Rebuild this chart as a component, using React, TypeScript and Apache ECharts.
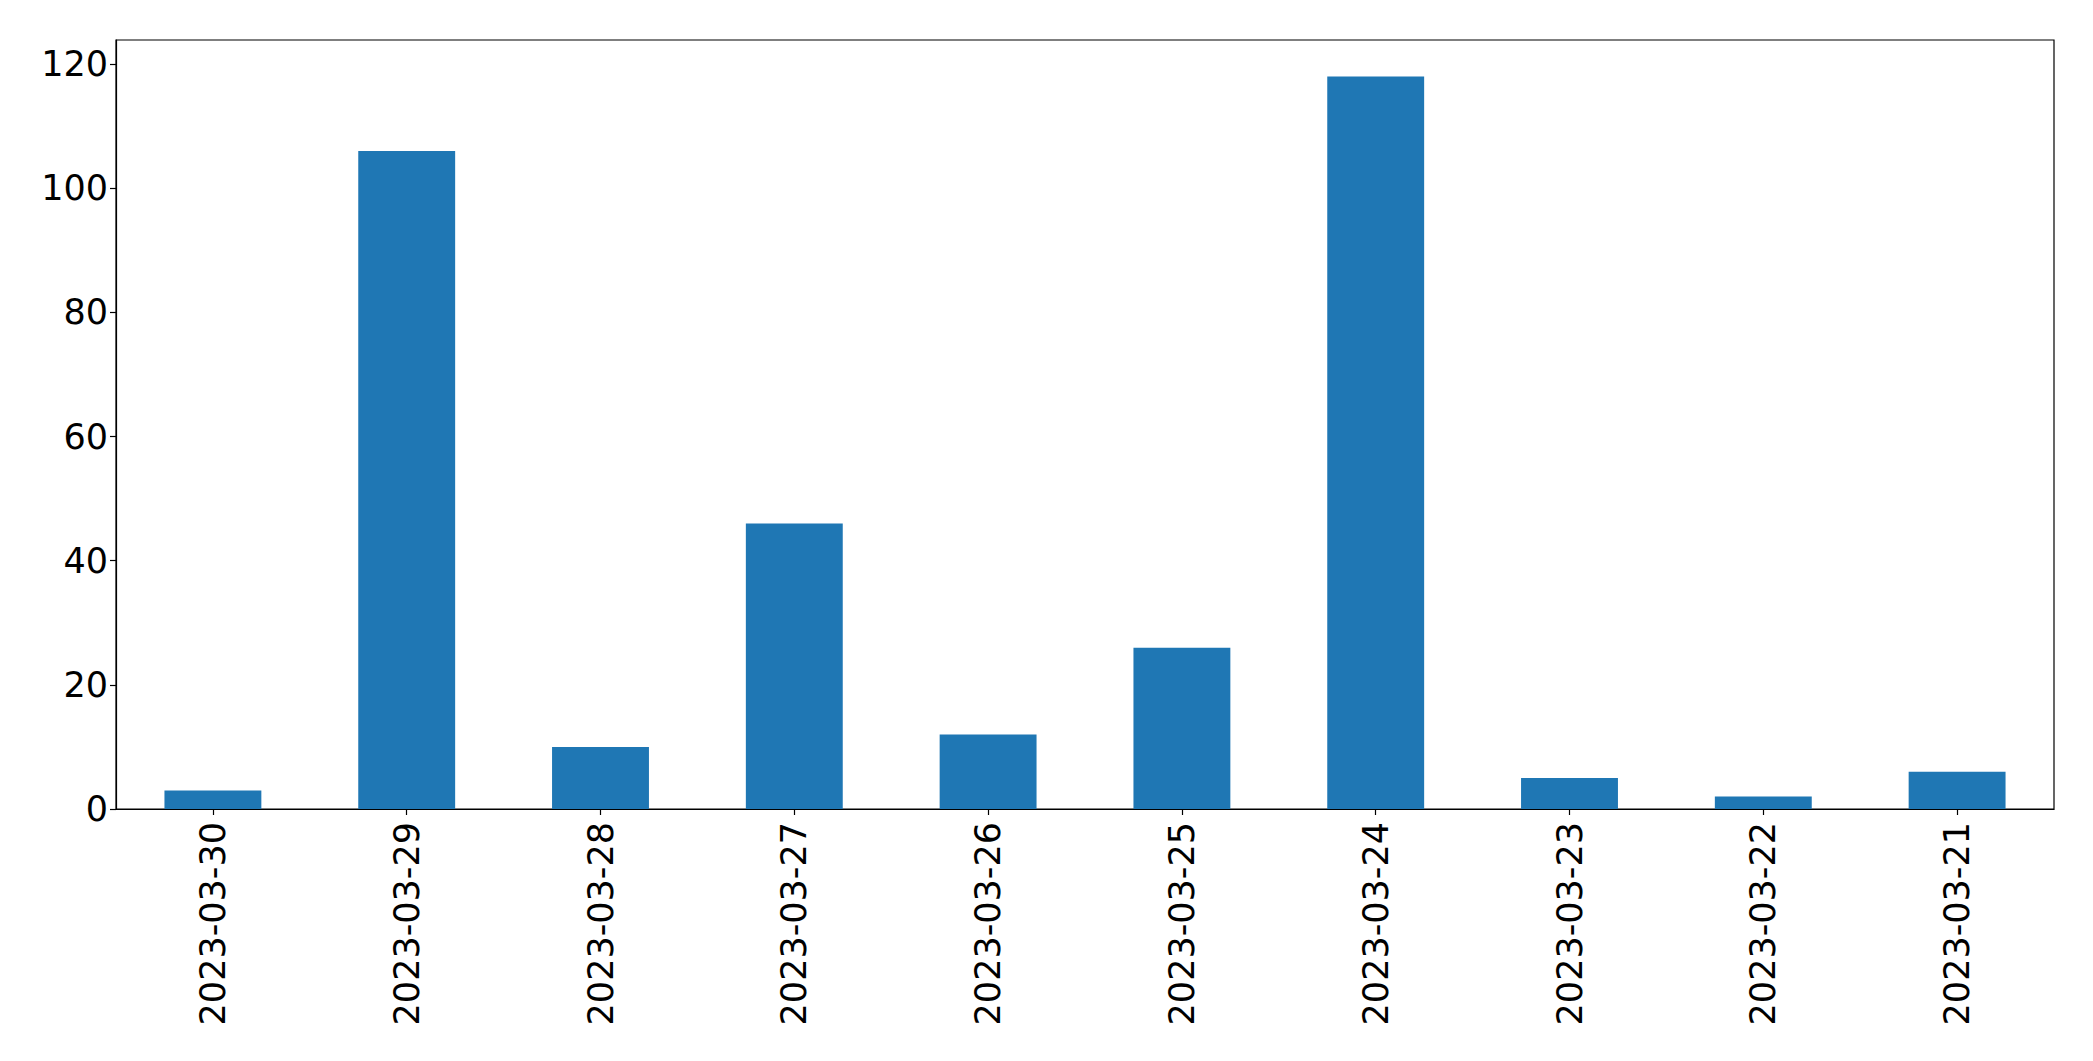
import React, { useEffect, useRef } from "react";
import * as echarts from "echarts";

const categories = [
  "2023-03-30",
  "2023-03-29",
  "2023-03-28",
  "2023-03-27",
  "2023-03-26",
  "2023-03-25",
  "2023-03-24",
  "2023-03-23",
  "2023-03-22",
  "2023-03-21",
];
const values = [3, 106, 10, 46, 12, 26, 118, 5, 2, 6];
const yMax = 123.9;
const yInterval = 20;

export default function App() {
  const ref = useRef<HTMLDivElement>(null);
  useEffect(() => {
    if (!ref.current) return;
    const chart = echarts.init(ref.current, undefined, { renderer: "svg" });
    const font = "DejaVu Sans";
    chart.setOption({
      animation: false,
      backgroundColor: "#fff",
      grid: {
        left: 116,
        right: 39,
        top: 40,
        bottom: 252,
        show: true,
        borderColor: "#000",
        borderWidth: 1.2,
        backgroundColor: "transparent",
      },
      xAxis: {
        type: "category",
        data: categories,
        boundaryGap: true,
        axisLine: { show: true, lineStyle: { color: "#000", width: 1.2 } },
        axisTick: { show: true, alignWithLabel: true, length: 6, lineStyle: { color: "#000", width: 1.2 } },
        axisLabel: {
          rotate: 90,
          margin: 13,
          color: "#000",
          fontSize: 35,
          fontFamily: font,
        },
        splitLine: { show: false },
      },
      yAxis: {
        type: "value",
        min: 0,
        max: yMax,
        interval: yInterval,
        axisLine: { show: true, lineStyle: { color: "#000", width: 1.2 } },
        axisTick: { show: true, length: 6, lineStyle: { color: "#000", width: 1.2 } },
        axisLabel: {
          color: "#000",
          fontSize: 35,
          fontFamily: font,
          margin: 8,
          showMaxLabel: false,
          formatter: (v: number) => (Math.abs(v - yMax) < 1e-6 ? "" : String(v)),
        },
        splitLine: { show: false },
      },
      series: [
        {
          type: "bar",
          data: values,
          barWidth: "50%",
          itemStyle: { color: "#1f77b4" },
        },
      ],
    });
    return () => chart.dispose();
  }, []);
  return (
    <div
      ref={ref}
      style={{ position: "fixed", left: 0, top: 0, width: 2093, height: 1061, background: "#fff" }}
    />
  );
}
